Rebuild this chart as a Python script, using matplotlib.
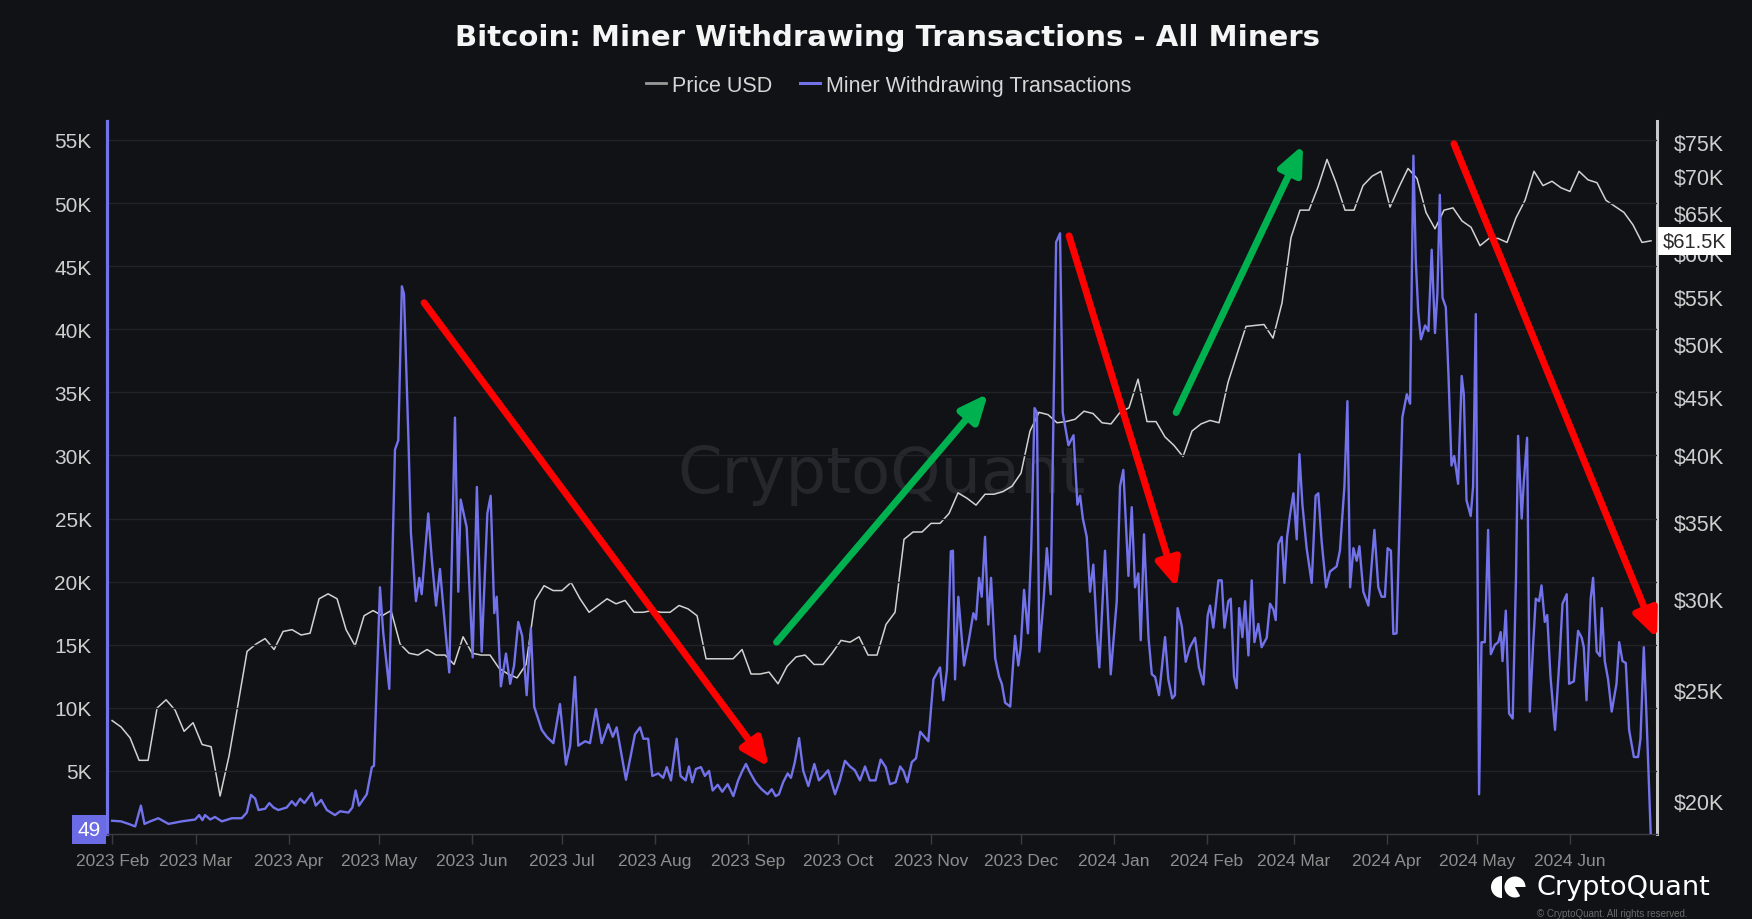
import numpy as np
import pandas as pd
import matplotlib
matplotlib.use('Agg')
import matplotlib.pyplot as plt
import matplotlib.dates as mdates
import matplotlib.transforms as mtransforms
from matplotlib.ticker import FixedLocator, FuncFormatter, NullLocator
from matplotlib.lines import Line2D
from matplotlib.patches import Wedge

plt.rcParams['font.family'] = ['Liberation Sans', 'DejaVu Sans']

# --- data --------------------------------------------------------------------
start = pd.Timestamp('2023-02-01')

# BTC price in $K, one value every 3 days from 2023-02-01
price_k = [
    23.5, 23.2, 22.7, 21.7, 21.7, 24.1, 24.5, 24.0, 23.0, 23.4,
    22.4, 22.3, 20.2, 21.9, 24.3, 27.0, 27.4, 27.7, 27.1, 28.1,
    28.2, 27.9, 28.0, 30.0, 30.3, 30.0, 28.2, 27.3, 29.0, 29.3,
    29.0, 29.3, 27.4, 26.9, 26.8, 27.1, 26.8, 26.8, 26.3, 27.8,
    26.9, 26.8, 26.8, 26.1, 25.8, 25.6, 26.3, 29.9, 30.8, 30.5,
    30.5, 31.0, 30.0, 29.2, 29.6, 30.0, 29.7, 29.9, 29.2, 29.2,
    29.3, 29.2, 29.2, 29.6, 29.4, 29.0, 26.6, 26.6, 26.6, 26.6,
    27.1, 25.8, 25.8, 25.9, 25.3, 26.2, 26.7, 26.8, 26.3, 26.3,
    26.9, 27.6, 27.5, 27.8, 26.8, 26.8, 28.5, 29.2, 33.8, 34.3,
    34.3, 34.9, 34.9, 35.6, 37.1, 36.7, 36.2, 37.0, 37.0, 37.2,
    37.6, 38.6, 42.0, 43.6, 43.4, 42.7, 42.8, 43.0, 43.7, 43.5,
    42.7, 42.6, 43.6, 44.0, 46.6, 42.8, 42.8, 41.5, 40.8, 39.9,
    42.0, 42.6, 42.9, 42.7, 46.3, 49.0, 51.8, 51.9, 52.0, 50.6,
    54.3, 61.9, 65.4, 65.4, 68.5, 72.4, 69.1, 65.4, 65.4, 68.7,
    70.0, 70.7, 65.8, 68.5, 71.1, 69.7, 65.1, 63.0, 65.4, 65.7,
    64.0, 63.2, 60.9, 61.8, 61.8, 61.3, 64.4, 66.7, 70.7, 68.7,
    69.3, 68.4, 67.9, 70.7, 69.5, 69.1, 66.7, 65.9, 65.1, 63.5,
    61.3, 61.5,
]

# miner withdrawing transactions: days after 2023-02-01 and values
miner_day = [
    0, 3, 5.5, 7.7, 9.6, 10.8, 12.7, 15.4, 18.8, 23.2,
    27.7, 29, 30.1, 31, 32.7, 34.3, 36.6, 39.9, 43.2, 44.9,
    46.3, 47.7, 48.8, 51, 52.4, 53.8, 55.4, 58.2, 59.9, 61.2,
    62.7, 64.1, 66.6, 67.9, 69.7, 71.6, 74.3, 76, 78.8, 80.1,
    81.2, 82.3, 84.9, 86.6, 87.3, 89.3, 90.4, 92.4, 94.3, 95.4,
    96.6, 97.3, 98.8, 99.6, 101.3, 102.4, 103.2, 105.4, 106.6, 108,
    109.3, 110.7, 112.4, 114.3, 115.4, 116.2, 118.2, 120.2, 121.6, 123.2,
    125.1, 126.2, 127.4, 128.2, 129.6, 131.3, 132.7, 134, 135.4, 136.7,
    138.2, 139.6, 140.7, 143.2, 144.9, 147.1, 149.3, 151.3, 152.7, 154.3,
    155.4, 157.7, 159.3, 161.3, 163.2, 165.4, 166.9, 168.2, 171.3, 174.3,
    176, 177.1, 178.7, 180.1, 182.1, 183.7, 184.9, 186.3, 188.2, 189.5,
    191.2, 192.3, 193.4, 194.6, 196.3, 197.6, 199, 200.2, 201.9, 203.4,
    205.2, 207.1, 208.7, 210.1, 211.3, 212.6, 214.5, 216.5, 218.5, 219.9,
    221.2, 222.3, 223.7, 225.2, 226.3, 227.6, 229, 230.4, 232.1, 234.1,
    235.6, 237.1, 238.7, 241, 242.6, 244.3, 246, 247.6, 249.3, 251,
    252.6, 254.5, 256.2, 257.9, 259.3, 261.2, 262.7, 263.8, 265.1, 266.6,
    268, 269.4, 272.1, 273.8, 276, 277.1, 278.3, 279.6, 280.3, 281,
    282.1, 284, 285.5, 287.1, 288, 289, 289.9, 291, 292.1, 293,
    294.4, 295.7, 296.6, 297.7, 299.4, 301, 302.1, 302.9, 304, 305.3,
    306.4, 307.5, 308.3, 309.1, 310.5, 311.6, 312.9, 314.7, 316, 316.9,
    318.8, 320.5, 321.8, 322.7, 323.6, 324.9, 326, 327.1, 328.3, 329.1,
    331, 332.9, 334.9, 336, 337.1, 338.8, 339.9, 341, 342.1, 342.9,
    344, 345.5, 346.6, 347.7, 349, 351, 352.1, 353.4, 354.3, 355.2,
    356.6, 357.9, 359.3, 361, 362.3, 363.8, 365.2, 366, 367.1, 368.8,
    369.9, 370.8, 372.1, 372.9, 374, 374.9, 375.7, 376.8, 377.7, 378.8,
    379.9, 380.8, 382.1, 383.2, 384.9, 386, 387.1, 387.9, 388.8, 389.9,
    390.8, 391.7, 392.7, 393.8, 394.9, 395.8, 396.8, 398.2, 399.9, 401.2,
    402.1, 403.2, 404.7, 406, 408.2, 409.3, 410.8, 411.8, 412.7, 413.8,
    414.9, 415.8, 417.1, 418.8, 420.8, 422.1, 423.2, 424.3, 425.2, 426.3,
    427.1, 428.2, 430.1, 431.6, 432.7, 433.8, 434.6, 435.4, 436.3, 437.7,
    438.8, 439.9, 441, 441.8, 442.6, 443.5, 444.6, 445.5, 446.5, 447.4,
    448.7, 449.9, 450.6, 451.5, 452.9, 453.7, 454.6, 455.7, 456.5, 457.6,
    458.7, 459.6, 461, 462.1, 462.9, 463.5, 464.6, 465.7, 466.9, 468,
    468.7, 469.9, 470.6, 471.7, 472.6, 473.7, 474.6, 475.7, 476.5, 477.6,
    478.4, 479.5, 481, 482.6, 483.5, 484.9, 485.7, 487.3, 488.7, 489.9,
    490.6, 491.5, 492.9, 493.7, 494.9, 496, 496.6, 497.6, 498.7, 499.9,
    501.5, 502.4, 503.5, 504.6, 505.7, 507.3, 508.7, 509.5, 510.6, 511.5,
    512.9,
]
miner_tx = [
    1050, 1000, 800, 600, 2250, 800, 1000, 1250, 800, 1000,
    1150, 1500, 1100, 1500, 1150, 1350, 1000, 1250, 1250, 1700,
    3100, 2800, 1900, 2000, 2450, 2100, 1900, 2100, 2600, 2250,
    2800, 2450, 3250, 2250, 2700, 1900, 1500, 1800, 1700, 2100,
    3450, 2250, 3150, 5300, 5400, 19550, 15900, 11500, 30450, 31200,
    43400, 42800, 31200, 23900, 18450, 20300, 19000, 25400, 21700, 18100,
    21000, 17200, 12800, 33000, 19200, 26500, 24300, 14000, 27500, 14450,
    25400, 26800, 17500, 18800, 11700, 14300, 11900, 13350, 16800, 15700,
    11000, 16300, 10100, 8260, 7700, 7200, 10300, 5500, 7000, 12450,
    7000, 7350, 7200, 9900, 7200, 8700, 7700, 8450, 4300, 7900,
    8450, 7550, 7550, 4600, 4800, 4450, 5300, 4250, 7550, 4600,
    4250, 5350, 4100, 5150, 5300, 4600, 5000, 3450, 3900, 3350,
    3950, 3000, 4250, 5000, 5550, 4900, 4100, 3550, 3150, 3550,
    3000, 3150, 4100, 4800, 4450, 5700, 7600, 5000, 3800, 5550,
    4250, 4600, 5050, 3150, 4250, 5800, 5350, 5050, 4250, 5350,
    4250, 4250, 5900, 5300, 3950, 4100, 5350, 5000, 4100, 5700,
    6000, 8100, 7350, 12250, 13200, 10600, 13000, 22400, 22450, 12250,
    18800, 13350, 15200, 17500, 17000, 20300, 18800, 23550, 16600, 20300,
    13900, 12450, 11900, 10400, 10100, 15700, 13350, 14800, 19350, 15900,
    22650, 33750, 33400, 14450, 18450, 22650, 19000, 46900, 47600, 33400,
    30800, 31600, 26100, 26800, 25000, 23550, 19200, 21350, 15900, 13200,
    22450, 12650, 18450, 27550, 28850, 20450, 25900, 19550, 20650, 15350,
    23750, 15550, 12650, 12450, 11000, 15600, 12250, 10750, 11000, 17900,
    16450, 13650, 14800, 15550, 13200, 11850, 17300, 18100, 16350, 20100,
    20100, 16350, 18450, 18650, 12450, 11550, 17900, 15600, 18450, 14150,
    20100, 15200, 16650, 14800, 15550, 18250, 17800, 16950, 23000, 23550,
    19900, 23550, 25350, 27000, 23350, 30100, 26100, 22650, 19900, 26800,
    27000, 23200, 19550, 20800, 21200, 22450, 27550, 34300, 19550, 22650,
    21650, 22800, 19200, 18100, 24100, 19550, 18800, 18800, 22650, 22450,
    15850, 15900, 33000, 34850, 34100, 53750, 45400, 41400, 39200, 40300,
    39850, 46300, 39700, 42850, 50650, 42500, 41750, 36300, 29200, 29950,
    27750, 36300, 34850, 26450, 25200, 27550, 41200, 3150, 15200, 15200,
    24100, 14250, 15000, 15200, 16000, 13700, 17700, 9550, 9150, 20300,
    31550, 25000, 27900, 31400, 9700, 15000, 18650, 18450, 19700, 16800,
    17350, 12450, 8250, 14250, 18250, 19000, 11900, 12100, 16100, 15550,
    14800, 10600, 18650, 20300, 14450, 14100, 17900, 13700, 12250, 9700,
    11900, 15200, 13700, 13550, 8250, 6100, 6100, 7550, 14800, 9350,
    49,
]

tx_ticks = [5000, 10000, 15000, 20000, 25000, 30000, 35000, 40000, 45000, 50000, 55000]
price_ticks = [20000, 25000, 30000, 35000, 40000, 45000, 50000, 55000, 60000, 65000, 70000, 75000]

# trend arrows drawn on the chart: (day, tx) tail -> (day, tx) tip
red_arrows = [((104, 42100), (219, 5300)), ((319, 47400), (355, 19500)), ((447.3, 54700), (515, 15500))]
green_arrows = [((221.5, 15200), (292, 34900)), ((354.7, 33400), (397, 54600))]

# --- styling -----------------------------------------------------------------
bg = '#111215'
purple = '#7272ea'
grid_c = '#222328'
tick_c = '#cfcfcf'

fig = plt.figure(figsize=(17.52, 9.2), dpi=100, facecolor=bg)
ax = fig.add_axes([0.06107, 0.09239, 0.8847, 0.775])
ax2 = ax.twinx()
ax.set_zorder(2)
ax2.set_zorder(1)
ax.patch.set_visible(False)

miner_dates = start + pd.to_timedelta(miner_day, unit='D')
price_dates = pd.date_range(start, periods=len(price_k), freq='3D')

ax2.plot(price_dates, np.array(price_k) * 1000, color='#d2d2d2', lw=1.1, zorder=2)
ax.plot(miner_dates, miner_tx, color=purple, lw=1.7, zorder=3)

ax.set_xlim(start - pd.Timedelta(days=1.7), start + pd.Timedelta(days=515))
ax.set_ylim(0, 56500)
ax2.set_yscale('log')
ax2.set_ylim(18720, 78200)

ax.yaxis.set_major_locator(FixedLocator(tx_ticks))
ax.yaxis.set_major_formatter(FuncFormatter(lambda v, p: f'{v / 1000:.0f}K'))
ax2.yaxis.set_major_locator(FixedLocator(price_ticks))
ax2.yaxis.set_minor_locator(NullLocator())
ax2.yaxis.set_major_formatter(FuncFormatter(lambda v, p: f'${v / 1000:.0f}K'))

ax.xaxis.set_major_locator(mdates.MonthLocator())
ax.xaxis.set_major_formatter(mdates.DateFormatter('%Y %b'))

ax.tick_params(axis='y', length=0, pad=11, labelsize=15, labelcolor=tick_c)
ax2.tick_params(axis='y', length=0, pad=12, labelsize=15.5, labelcolor=tick_c)
ax.tick_params(axis='x', length=7, width=1, color='#3b3c41', pad=7, labelsize=12.5, labelcolor='#8e8e8e')

ax.yaxis.grid(True, color=grid_c, lw=1)
ax.set_axisbelow(True)

for s in ['top', 'right']:
    ax.spines[s].set_visible(False)
ax.spines['left'].set_color(purple)
ax.spines['left'].set_linewidth(2.3)
ax.spines['bottom'].set_color('#3b3c41')
ax.spines['bottom'].set_linewidth(1)
for s in ['top', 'left', 'bottom']:
    ax2.spines[s].set_visible(False)
ax2.spines['right'].set_color('#c8c8c8')
ax2.spines['right'].set_linewidth(2.2)

# watermark
ax2.text(0.5, 0.505, 'CryptoQuant', transform=ax2.transAxes, ha='center', va='center',
         fontsize=46, color='#26272c', family='DejaVu Sans', zorder=0)

# arrows
for arrows, col in [(red_arrows, '#ff0000'), (green_arrows, '#00b14f')]:
    for (d0, v0), (d1, v1) in arrows:
        x0 = mdates.date2num(start + pd.Timedelta(days=d0))
        x1 = mdates.date2num(start + pd.Timedelta(days=d1))
        ax.annotate('', xy=(x1, v1), xytext=(x0, v0), annotation_clip=False, zorder=6,
                    arrowprops=dict(arrowstyle='-|>,head_length=0.75,head_width=0.33',
                                    color=col, lw=5, shrinkA=0, shrinkB=0, mutation_scale=22))

# last-value labels
ax.annotate(f'{miner_tx[-1]}', xy=(0, miner_tx[-1]),
            xycoords=mtransforms.blended_transform_factory(ax.transAxes, ax.transData),
            xytext=(-4.5, 3), textcoords='offset points', ha='right', va='center',
            fontsize=15, color='white', annotation_clip=False,
            bbox=dict(boxstyle='square,pad=0.25', fc='#6b6be6', ec='none'))
ax2.annotate(f'${price_k[-1]:.1f}K', xy=(1, price_k[-1] * 1000),
             xycoords=mtransforms.blended_transform_factory(ax2.transAxes, ax2.transData),
             xytext=(4, 0), textcoords='offset points', ha='left', va='center',
             fontsize=14.5, color='#2a2a2a', annotation_clip=False,
             bbox=dict(boxstyle='square,pad=0.22', fc='white', ec='none'))

# title and legend
fig.text(0.5068, 0.9587, 'Bitcoin: Miner Withdrawing Transactions - All Miners', ha='center', va='center',
         fontsize=21, fontweight='bold', color='#f5f5f5', family='DejaVu Sans')
handles = [Line2D([], [], color='#9a9a9a', lw=2), Line2D([], [], color=purple, lw=2.2)]
fig.legend(handles, ['Price USD', 'Miner Withdrawing Transactions'], loc='center',
           bbox_to_anchor=(0.5074, 0.9065), ncol=2, frameon=False, fontsize=15.5,
           labelcolor='#d6d6d6', handlelength=0.9, handletextpad=0.3, columnspacing=1.3)

# logo bottom right
lax = fig.add_axes([1489 / 1752, 1 - 900 / 920, 40 / 1752, 24 / 920])
lax.set_xlim(0, 40)
lax.set_ylim(0, 24)
lax.set_aspect('equal')
lax.axis('off')
lax.add_patch(Wedge((13, 12), 11, 90, 270, fc='white', ec='none'))
lax.add_patch(Wedge((26, 12), 10.5, 0, 300, fc='white', ec='none'))
fig.text(1537 / 1752, 1 - 888 / 920, 'CryptoQuant', ha='left', va='center', fontsize=19.5,
         color='white', family='DejaVu Sans')
fig.text(1537 / 1752, 1 - 914 / 920, '\u00a9 CryptoQuant. All rights reserved.', ha='left',
         va='center', fontsize=7, color='#6a6a6a')

fig.savefig('out.png', dpi=100, facecolor=bg)
